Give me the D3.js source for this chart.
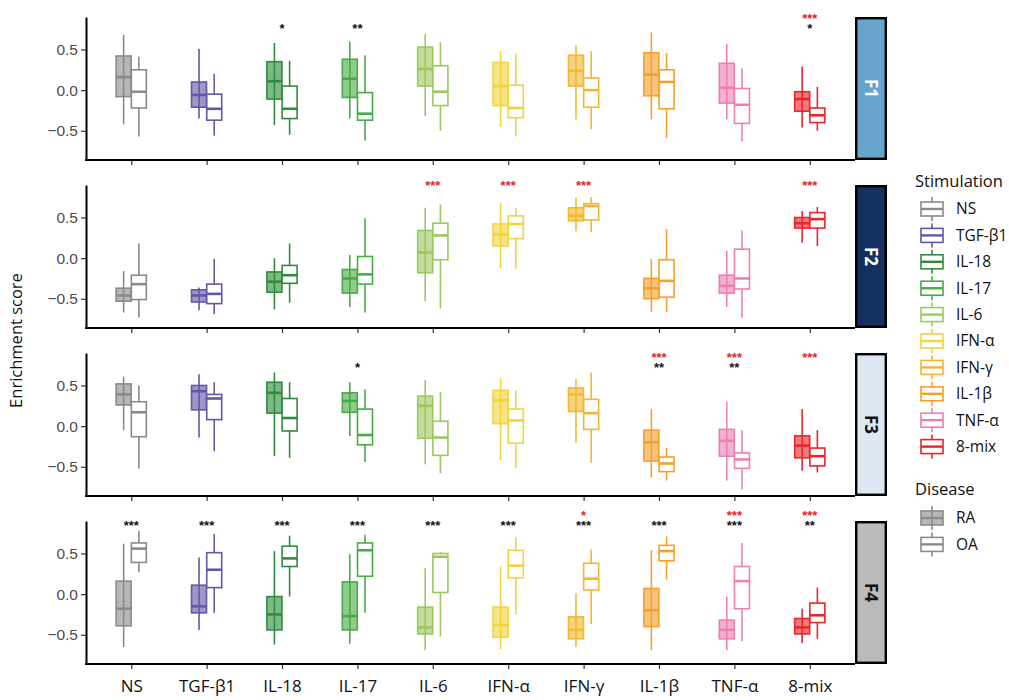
<!DOCTYPE html>
<html>
<head>
<meta charset="utf-8">
<script src="https://cdn.jsdelivr.net/npm/d3@7"></script>
<style>
  body { margin: 0; background: #fff; }
  svg { font-family: "Open Sans", sans-serif; }
</style>
</head>
<body>
<div id="chart"></div>
<script>
// stimulation categories and their colours
var stims = ['NS', 'TGF-β1', 'IL-18', 'IL-17', 'IL-6', 'IFN-α', 'IFN-γ', 'IL-1β', 'TNF-α', '8-mix'];
var stimColors = ['#8a8a8a', '#6556a6', '#2f8c3e', '#4aab45', '#9cc95f', '#f2d33c', '#f2b830', '#f5a02a', '#ee80b1', '#e8262c'];
var facets = ['F1', 'F2', 'F3', 'F4'];
var diseases = ['RA', 'OA'];
var yTicks = [-0.5, 0, 0.5];

// box stats per stimulation: [lower whisker, q1, median, q3, upper whisker]
var f1RA = [[-0.42,-0.08,0.16,0.42,0.68],[-0.35,-0.21,-0.06,0.10,0.51],[-0.43,-0.11,0.11,0.35,0.58],[-0.35,-0.09,0.14,0.38,0.60],[-0.32,0.05,0.26,0.53,0.69],
            [-0.45,-0.19,0.05,0.34,0.48],[-0.36,0.05,0.24,0.43,0.55],[-0.36,-0.07,0.19,0.46,0.71],[-0.36,-0.16,0.03,0.33,0.57],[-0.46,-0.26,-0.11,-0.02,0.29]];
var f1OA = [[-0.57,-0.22,-0.02,0.25,0.41],[-0.56,-0.37,-0.23,-0.05,0.20],[-0.55,-0.35,-0.23,0.05,0.36],[-0.62,-0.37,-0.29,-0.03,0.43],[-0.50,-0.19,-0.02,0.30,0.59],
            [-0.57,-0.34,-0.22,0.06,0.45],[-0.48,-0.21,0.00,0.15,0.48],[-0.59,-0.23,0.10,0.25,0.46],[-0.63,-0.41,-0.18,0.02,0.27],[-0.50,-0.40,-0.31,-0.22,0.04]];
var f2RA = [[-0.67,-0.53,-0.46,-0.37,-0.16],[-0.64,-0.54,-0.46,-0.39,-0.36],[-0.63,-0.42,-0.29,-0.17,0.00],[-0.60,-0.43,-0.25,-0.14,0.04],[-0.53,-0.18,0.07,0.34,0.62],
            [-0.12,0.15,0.29,0.42,0.68],[0.33,0.46,0.52,0.62,0.74],[-0.66,-0.50,-0.37,-0.25,-0.01],[-0.60,-0.43,-0.34,-0.21,0.09],[0.19,0.37,0.43,0.50,0.58]];
var f2OA = [[-0.73,-0.51,-0.32,-0.21,0.18],[-0.69,-0.56,-0.44,-0.32,-0.01],[-0.55,-0.31,-0.21,-0.09,0.18],[-0.67,-0.32,-0.20,0.02,0.49],[-0.62,-0.02,0.28,0.43,0.66],
            [-0.13,0.24,0.42,0.52,0.62],[0.32,0.47,0.64,0.67,0.75],[-0.66,-0.48,-0.28,-0.02,0.36],[-0.73,-0.38,-0.25,0.11,0.34],[0.15,0.37,0.48,0.56,0.63]];
var f3RA = [[-0.05,0.26,0.39,0.52,0.61],[-0.14,0.20,0.43,0.50,0.64],[-0.37,0.16,0.41,0.54,0.66],[-0.12,0.17,0.31,0.41,0.54],[-0.47,-0.15,0.25,0.37,0.57],
            [-0.42,0.03,0.32,0.44,0.59],[-0.20,0.18,0.39,0.47,0.58],[-0.63,-0.43,-0.20,-0.05,0.21],[-0.67,-0.37,-0.18,-0.04,0.30],[-0.55,-0.39,-0.24,-0.12,0.21]];
var f3OA = [[-0.52,-0.13,0.17,0.30,0.50],[-0.31,0.08,0.34,0.39,0.54],[-0.39,-0.06,0.10,0.34,0.54],[-0.44,-0.23,-0.11,0.21,0.45],[-0.58,-0.36,-0.14,0.06,0.42],
            [-0.52,-0.21,0.07,0.21,0.44],[-0.45,-0.04,0.16,0.33,0.66],[-0.67,-0.56,-0.46,-0.38,-0.27],[-0.78,-0.52,-0.41,-0.33,-0.05],[-0.57,-0.49,-0.37,-0.27,-0.05]];
var f4RA = [[-0.65,-0.39,-0.18,0.16,0.62],[-0.44,-0.23,-0.15,0.11,0.45],[-0.62,-0.44,-0.25,-0.03,0.53],[-0.61,-0.44,-0.27,0.15,0.49],[-0.69,-0.49,-0.41,-0.16,0.32],
            [-0.68,-0.53,-0.38,-0.16,0.34],[-0.65,-0.55,-0.44,-0.28,0.01],[-0.69,-0.40,-0.20,0.07,0.54],[-0.69,-0.55,-0.44,-0.32,-0.03],[-0.60,-0.49,-0.41,-0.30,-0.18]];
var f4OA = [[0.27,0.39,0.56,0.63,0.78],[-0.23,0.08,0.30,0.51,0.74],[-0.03,0.34,0.44,0.59,0.72],[-0.23,0.22,0.54,0.63,0.73],[-0.52,0.02,0.46,0.50,0.52],
            [-0.25,0.20,0.35,0.54,0.70],[-0.37,0.05,0.19,0.38,0.55],[0.18,0.41,0.53,0.60,0.71],[-0.58,-0.18,0.16,0.34,0.63],[-0.55,-0.35,-0.26,-0.11,0.08]];

// significance marks (black row = RA vs OA, red row = vs NS)
var f1Black = ['', '', '*', '**', '', '', '', '', '', '*'];
var f1Red   = ['', '', '', '', '', '', '', '', '', '***'];
var f2Black = ['', '', '', '', '', '', '', '', '', ''];
var f2Red   = ['', '', '', '', '***', '***', '***', '', '', '***'];
var f3Black = ['', '', '', '*', '', '', '', '**', '**', ''];
var f3Red   = ['', '', '', '', '', '', '', '***', '***', '***'];
var f4Black = ['***', '***', '***', '***', '***', '***', '***', '***', '***', '**'];
var f4Red   = ['', '', '', '', '', '', '*', '', '***', '***'];
// y value (data units) of the red row, per facet
var redLevel = [0.90, 0.91, 0.86, 0.99];

var stripFill = ['#67a5cc', '#14305e', '#dde8f4', '#bbbbbb'];
var stripText = ['#ffffff', '#ffffff', '#111111', '#111111'];

var panels = [
  {RA: f1RA, OA: f1OA, black: f1Black, red: f1Red},
  {RA: f2RA, OA: f2OA, black: f2Black, red: f2Red},
  {RA: f3RA, OA: f3OA, black: f3Black, red: f3Red},
  {RA: f4RA, OA: f4OA, black: f4Black, red: f4Red}
];

var width = 1009, height = 700;
var left = 86, right = 855, stripW = 32;
var panelTop = [17, 185, 353, 521], panelH = 143;
var step = (right - left) / 10.2;

var svg = d3.select('#chart').append('svg')
  .attr('width', width)
  .attr('height', height);

var x = d3.scalePoint()
  .domain(stims)
  .range([left + 0.6 * step, right - 0.6 * step]);

var color = d3.scaleOrdinal().domain(stims).range(stimColors);

var dodge = 7.6, boxW = 15;

panels.forEach(function(p, i) {
  var top = panelTop[i];
  var y = d3.scaleLinear().domain([-0.86, 0.90]).range([top + panelH, top]);
  var g = svg.append('g').attr('class', 'panel');

  // y axis
  var ya = g.append('g')
    .attr('transform', 'translate(' + left + ',0)')
    .call(d3.axisLeft(y).tickValues(yTicks).tickFormat(d3.format('.1f')).tickSize(5).tickSizeOuter(0).tickPadding(3));
  ya.select('.domain').attr('stroke', '#000').attr('stroke-width', 2);
  ya.selectAll('.tick line').attr('stroke', '#333').attr('stroke-width', 1.2);
  ya.selectAll('.tick text').attr('fill', '#4d4d4d').style('font-family', 'Liberation Sans, Arial, sans-serif').style('font-size', '15.5px');

  // x axis
  var xa = g.append('g')
    .attr('transform', 'translate(0,' + (top + panelH) + ')')
    .call(d3.axisBottom(x).tickSize(5).tickSizeOuter(0).tickPadding(11));
  xa.select('.domain').remove();
  xa.selectAll('.tick line').attr('stroke', '#333').attr('stroke-width', 1.2);
  if (i < 3) xa.selectAll('.tick text').remove();
  else xa.selectAll('.tick text').attr('fill', '#111').style('font-family', 'Open Sans, sans-serif').style('font-size', '17px');
  g.append('line')
    .attr('x1', left - 1).attr('x2', right)
    .attr('y1', top + panelH).attr('y2', top + panelH)
    .attr('stroke', '#000').attr('stroke-width', 2);

  // boxes
  diseases.forEach(function(dis, k) {
    var stats = p[dis];
    var off = k === 0 ? -dodge : dodge;
    var bg = g.selectAll('g.box-' + dis).data(stats).enter()
      .append('g')
      .attr('class', 'box-' + dis);
    bg.append('line')
      .attr('x1', function(d, j) { return x(stims[j]) + off; })
      .attr('x2', function(d, j) { return x(stims[j]) + off; })
      .attr('y1', function(d) { return y(d[4]); })
      .attr('y2', function(d) { return y(d[0]); })
      .attr('stroke', function(d, j) { return stimColors[j]; })
      .attr('stroke-width', 1.6);
    bg.append('rect')
      .attr('x', function(d, j) { return x(stims[j]) + off - boxW / 2; })
      .attr('width', boxW)
      .attr('y', function(d) { return y(d[3]); })
      .attr('height', function(d) { return y(d[1]) - y(d[3]); })
      .attr('fill', function(d, j) { return k === 0 ? stimColors[j] : '#fff'; })
      .attr('fill-opacity', k === 0 ? 0.62 : 1)
      .attr('stroke', function(d, j) { return stimColors[j]; })
      .attr('stroke-width', 1.6);
    bg.append('line')
      .attr('x1', function(d, j) { return x(stims[j]) + off - boxW / 2; })
      .attr('x2', function(d, j) { return x(stims[j]) + off + boxW / 2; })
      .attr('y1', function(d) { return y(d[2]); })
      .attr('y2', function(d) { return y(d[2]); })
      .attr('stroke', function(d, j) { return stimColors[j]; })
      .attr('stroke-width', 2.6);
  });

  // significance stars: one text per stimulation, red row above black row
  var sig = g.selectAll('text.sig').data(stims).enter()
    .append('text')
    .attr('class', 'sig')
    .attr('text-anchor', 'middle')
    .style('font-family', 'Liberation Sans, Arial, sans-serif')
    .style('font-size', '13px')
    .style('font-weight', 'bold');
  sig.append('tspan')
    .attr('x', function(d) { return x(d); })
    .attr('y', y(redLevel[i]) + 6)
    .attr('fill', '#e3262c')
    .text(function(d, j) { return p.red[j]; });
  sig.append('tspan')
    .attr('x', function(d) { return x(d); })
    .attr('y', y(redLevel[i]) + 16)
    .attr('fill', '#111')
    .text(function(d, j) { return p.black[j]; });

  // facet strip
  g.append('rect')
    .attr('x', right + 1.2).attr('y', top + 1.2)
    .attr('width', stripW - 2.4).attr('height', panelH - 2.4)
    .attr('fill', stripFill[i])
    .attr('stroke', '#000').attr('stroke-width', 2.4);
  g.append('text')
    .attr('transform', 'translate(' + (right + stripW / 2) + ',' + (top + panelH / 2) + ') rotate(90)')
    .attr('text-anchor', 'middle')
    .attr('dy', '0.35em')
    .attr('fill', stripText[i])
    .style('font-family', 'Open Sans, sans-serif')
    .style('font-size', '17px')
    .style('font-weight', 'bold')
    .text(facets[i]);
});

// y label
svg.append('text')
  .attr('transform', 'translate(22,' + (panelTop[0] + (panelTop[3] + panelH - panelTop[0]) / 2) + ') rotate(-90)')
  .attr('text-anchor', 'middle')
  .attr('fill', '#111')
  .style('font-size', '16.5px')
  .text('Enrichment score');

// legend
function keyGlyph(g, cx, cy, stroke, fill, op) {
  g.append('line').attr('x1', cx).attr('x2', cx).attr('y1', cy - 12).attr('y2', cy + 12)
    .attr('stroke', stroke).attr('stroke-width', 1.6);
  g.append('rect').attr('x', cx - 11).attr('y', cy - 7).attr('width', 22).attr('height', 14)
    .attr('fill', fill).attr('fill-opacity', op).attr('stroke', stroke).attr('stroke-width', 1.6);
  g.append('line').attr('x1', cx - 11).attr('x2', cx + 11).attr('y1', cy).attr('y2', cy)
    .attr('stroke', stroke).attr('stroke-width', 2.4);
}

var leg = svg.append('g');
leg.append('text').attr('x', 915).attr('y', 187).attr('fill', '#111')
  .style('font-size', '16.5px').text('Stimulation');
stims.forEach(function(s, j) {
  var cy = 209 + j * 26.4;
  keyGlyph(leg, 932, cy, color(s), '#fff', 1);
  leg.append('text').attr('x', 956).attr('y', cy).attr('dy', '0.35em').attr('fill', '#111')
    .style('font-size', '15.5px').text(s);
});
leg.append('text').attr('x', 915).attr('y', 495).attr('fill', '#111')
  .style('font-size', '16.5px').text('Disease');
diseases.forEach(function(d, k) {
  var cy = 518 + k * 26.4;
  keyGlyph(leg, 932, cy, '#8a8a8a', k === 0 ? '#8a8a8a' : '#fff', k === 0 ? 0.62 : 1);
  leg.append('text').attr('x', 956).attr('y', cy).attr('dy', '0.35em').attr('fill', '#111')
    .style('font-size', '15.5px').text(d);
});
</script>
</body>
</html>
